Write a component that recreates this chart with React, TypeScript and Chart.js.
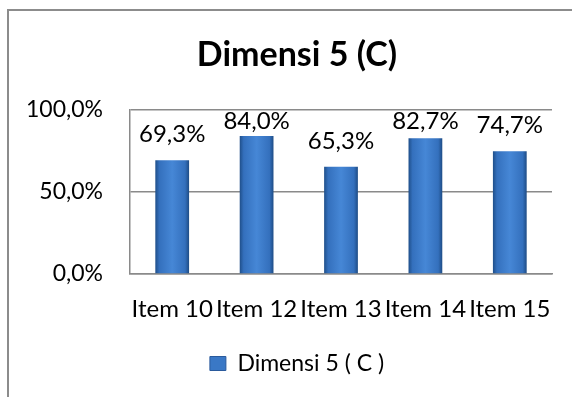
import React, { useEffect, useRef } from "react";
import { Chart, registerables } from "chart.js";

Chart.register(...registerables);

const categories = ["Item 10", "Item 12", "Item 13", "Item 14", "Item 15"];
const values = [69.3, 84.0, 65.3, 82.7, 74.7];
const seriesName = "Dimensi 5 ( C )";
const chartTitle = "Dimensi 5 (C)";
const yTicks = [0, 50, 100];

const FONT = "Lato, 'Open Sans', sans-serif";
const fmt = (v: number) => v.toFixed(1).replace(".", ",") + "%";

const framePlugin = {
  id: "frame",
  beforeDraw(chart: any) {
    const { ctx, width, height } = chart;
    ctx.save();
    ctx.fillStyle = "#ffffff";
    ctx.fillRect(0, 0, width, height);
    ctx.strokeStyle = "#8c8c8c";
    ctx.lineWidth = 2;
    ctx.beginPath();
    ctx.moveTo(8, height);
    ctx.lineTo(8, 10);
    ctx.lineTo(width, 10);
    ctx.stroke();
    ctx.restore();
  },
};

const labelPlugin = {
  id: "valueLabels",
  afterDatasetsDraw(chart: any) {
    const { ctx, chartArea } = chart;
    const meta = chart.getDatasetMeta(0);
    ctx.save();
    ctx.font = `24px ${FONT}`;
    ctx.fillStyle = "#000000";
    ctx.textAlign = "center";
    ctx.textBaseline = "middle";
    meta.data.forEach((el: any, i: number) => {
      const y = Math.max(el.y - 26, chartArea.top + 11);
      ctx.fillText(fmt(values[i]), el.x, y);
    });
    ctx.restore();
  },
};

function barFill(c: any) {
  const chart = c.chart;
  const xs = chart.scales && chart.scales.x;
  if (!xs || c.type !== "data" || !chart.chartArea) return "#3a78c6";
  const cx = xs.getPixelForValue(c.dataIndex);
  const w = (xs.width / categories.length) * 0.4;
  const g = chart.ctx.createLinearGradient(cx - w / 2, 0, cx + w / 2, 0);
  g.addColorStop(0, "#1f4f8a");
  g.addColorStop(0.12, "#3470bd");
  g.addColorStop(0.5, "#4687d6");
  g.addColorStop(0.88, "#3470bd");
  g.addColorStop(1, "#1e4c85");
  return g;
}

export default function App() {
  const ref = useRef<HTMLCanvasElement>(null);
  useEffect(() => {
    if (!ref.current) return;
    const chart = new Chart(ref.current, {
      type: "bar",
      data: {
        labels: categories,
        datasets: [
          {
            label: seriesName,
            data: values,
            backgroundColor: barFill as any,
            borderWidth: 0,
            barPercentage: 0.4,
            categoryPercentage: 1,
          },
        ],
      },
      options: {
        responsive: false,
        animation: false,
        layout: { padding: { top: 0, left: 22, right: 0, bottom: 12 } },
        plugins: {
          title: {
            display: true,
            text: chartTitle,
            color: "#000000",
            font: { family: FONT, size: 34, weight: "bold" },
            padding: { top: 35, bottom: 34 },
          },
          legend: {
            display: true,
            position: "bottom",
            labels: {
              font: { family: FONT, size: 23 },
              color: "#000000",
              boxWidth: 16,
              boxHeight: 14,
              padding: 10,
              generateLabels: () => [
                {
                  text: seriesName,
                  fillStyle: "#3a78c6",
                  strokeStyle: "#2a5a9c",
                  lineWidth: 1,
                  hidden: false,
                  datasetIndex: 0,
                } as any,
              ],
            },
          },
          tooltip: { enabled: false },
        },
        scales: {
          x: {
            grid: { display: false },
            border: { display: true, color: "#8a8a8a", width: 1.5 },
            ticks: {
              autoSkip: false,
              maxRotation: 0,
              minRotation: 0,
              padding: 13,
              color: "#000000",
              font: { family: FONT, size: 24 },
            },
            afterFit: (s: any) => {
              s.height = 68;
            },
          },
          y: {
            min: 0,
            max: 100,
            afterBuildTicks: (s: any) => {
              s.ticks = yTicks.map((v) => ({ value: v }));
            },
            grid: { color: "#8a8a8a", lineWidth: 1.5, drawTicks: false },
            border: { display: true, color: "#8a8a8a", width: 1.5 },
            ticks: {
              padding: 27,
              color: "#000000",
              font: { family: FONT, size: 23 },
              callback: (v: any) => fmt(Number(v)),
            },
            afterFit: (s: any) => {
              s.width = 108;
            },
          },
          yRight: {
            type: "linear",
            position: "right",
            display: true,
            grid: { display: false, drawTicks: false },
            border: { display: false },
            ticks: { display: false },
            afterFit: (s: any) => {
              s.width = 20;
            },
          },
        },
      },
      plugins: [framePlugin, labelPlugin],
    });
    return () => chart.destroy();
  }, []);
  return (
    <div style={{ position: "fixed", left: 0, top: 0, width: 572, height: 397, background: "#fff" }}>
      <canvas ref={ref} width={572} height={397} style={{ display: "block" }} />
    </div>
  );
}
